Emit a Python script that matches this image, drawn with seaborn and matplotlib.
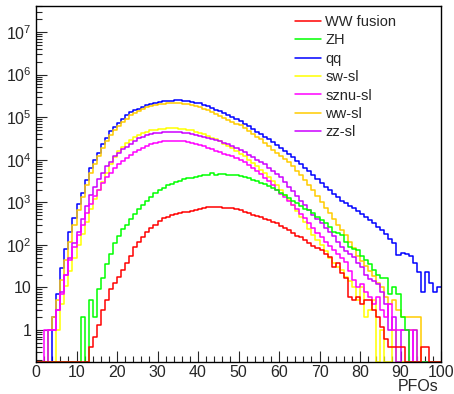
import numpy as np
import pandas as pd
import matplotlib
matplotlib.use("Agg")
import matplotlib.pyplot as plt
from matplotlib.ticker import FixedLocator, MultipleLocator, LogLocator, NullFormatter
import seaborn as sns

# ---------------- data (per-bin contents, bins 0..99 of width 1) ----------------
n_bins = 100
x_range = (0, 100)

qq = [0, 0, 0, 0, 2, 7, 29, 80, 200, 430,
      900, 1700, 3300, 6500, 10000, 14500, 24000, 32000, 48000, 60000,
      75000, 90000, 110000, 130000, 145000, 160000, 175000, 190000, 205000, 215000,
      225000, 235000, 240000, 245000, 250000, 250000, 245000, 240000, 230000, 220000,
      210000, 195000, 180000, 165000, 150000, 140000, 125000, 110000, 100000, 90000,
      80000, 70000, 61000, 53000, 46000, 40000, 35000, 30000, 26000, 22000,
      19000, 16500, 14000, 11500, 9500, 8000, 6500, 5300, 4300, 3500,
      2800, 2300, 1900, 1600, 1300, 1100, 950, 820, 720, 620,
      540, 450, 380, 320, 260, 220, 180, 140, 110, 57,
      64, 60, 55, 37, 23, 8, 23, 13, 8, 10]

ww_sl = [0, 0, 0, 1, 2, 5, 15, 45, 120, 300,
         650, 1300, 2600, 5000, 8000, 12000, 19000, 27000, 38000, 50000,
         63000, 77000, 93000, 110000, 125000, 140000, 155000, 170000, 180000, 190000,
         200000, 205000, 210000, 212000, 212000, 210000, 205000, 200000, 190000, 180000,
         170000, 158000, 145000, 133000, 120000, 108000, 97000, 87000, 79000, 71000,
         64000, 56000, 48000, 41000, 35000, 30000, 25000, 21000, 17000, 14500,
         12500, 10500, 8800, 7000, 5500, 4300, 3300, 2500, 1900, 1400,
         1000, 750, 550, 400, 290, 220, 170, 120, 85, 55,
         42, 32, 25, 19, 13, 10, 6, 4, 5, 3,
         2, 2, 2, 2, 2, 0, 0, 0, 0, 0]

sw_sl = [0, 0, 0, 0, 0, 1, 4, 11, 25, 50,
         100, 180, 350, 700, 1200, 1900, 3000, 5000, 8000, 11500,
         16000, 20000, 25000, 29000, 34000, 39000, 43000, 46000, 49000, 51000,
         53000, 54000, 55000, 55000, 55000, 54000, 53000, 51000, 49000, 46000,
         43000, 40000, 37000, 33000, 30000, 27000, 24000, 21000, 18500, 16000,
         14000, 12000, 10000, 8500, 7000, 5800, 4800, 3900, 3100, 2500,
         2000, 1500, 1150, 870, 640, 460, 340, 240, 170, 130,
         100, 70, 50, 38, 30, 26, 18, 14, 10, 5,
         10, 2, 3, 5, 0, 1, 0, 0, 1, 0,
         0, 0, 1, 1, 0, 0, 0, 0, 0, 0]

zz_sl = [0, 0, 0, 1, 1, 3, 8, 20, 50, 110,
         200, 400, 800, 1500, 2300, 3500, 5000, 7000, 9000, 12000,
         14500, 17500, 20000, 24000, 28000, 32000, 35000, 38000, 40000, 42000,
         43000, 44000, 45000, 45000, 45000, 44500, 43500, 42000, 41000, 39000,
         37000, 35000, 33000, 31000, 29000, 27000, 25000, 23000, 21000, 19000,
         17000, 15000, 13000, 11500, 10000, 9000, 8000, 6500, 5500, 4600,
         3900, 3000, 2300, 1800, 1400, 1100, 850, 650, 500, 400,
         320, 250, 200, 160, 120, 90, 70, 60, 52, 38,
         30, 20, 16, 14, 12, 8, 4, 1, 2, 0,
         1, 1, 0, 1, 0, 0, 0, 0, 0, 0]

sznu_sl = [0, 0, 1, 1, 1, 3, 7, 20, 45, 90,
           170, 300, 550, 900, 1400, 2000, 2900, 3900, 5000, 6300,
           7800, 9500, 11000, 13000, 15000, 17000, 19000, 21000, 23000, 25000,
           26000, 27000, 27500, 28000, 28000, 27500, 27000, 26000, 25000, 23500,
           22000, 20500, 19000, 17500, 16000, 15000, 14000, 13000, 12000, 11000,
           10000, 8800, 7600, 6500, 5500, 4600, 3800, 3100, 2500, 2000,
           1600, 1300, 1050, 850, 680, 540, 430, 330, 250, 190,
           150, 120, 95, 75, 60, 48, 40, 25, 15, 10,
           12, 8, 6, 4, 6, 3, 2, 4, 1, 1,
           1, 1, 1, 0, 0, 0, 0, 0, 0, 0]

zh = [0, 0, 0, 0, 0, 0, 0, 0, 0, 0,
      0, 2, 0, 5, 2, 9, 17, 35, 60, 110,
      160, 230, 300, 400, 520, 680, 870, 1100, 1350, 1650,
      1900, 2200, 2500, 2750, 3000, 3250, 3450, 3650, 3800, 3950,
      4100, 4300, 4500, 4800, 4500, 4700, 4600, 4400, 4500, 4300,
      4100, 3900, 3700, 3400, 3150, 2900, 2650, 2400, 2150, 1900,
      1650, 1450, 1250, 1100, 950, 800, 700, 650, 550, 450,
      380, 330, 260, 200, 190, 170, 120, 90, 80, 75,
      55, 44, 35, 26, 20, 17, 17, 7, 10, 7,
      2, 1, 0, 0, 0, 0, 0, 0, 0, 0]

ww_fusion = [0, 0, 0, 0, 0, 0, 0, 0, 0, 0,
             0, 0, 0, 0.4, 0.7, 1.3, 3, 5, 9, 13,
             18, 26, 38, 55, 90, 120, 150, 200, 250, 300,
             370, 420, 460, 500, 530, 560, 580, 600, 620, 650,
             680, 720, 780, 760, 790, 770, 740, 730, 720, 700,
             650, 600, 550, 500, 470, 440, 410, 380, 350, 320,
             280, 250, 220, 190, 165, 150, 130, 110, 95, 85,
             76, 60, 52, 30, 38, 22, 17, 6, 5, 6,
             4, 5, 5, 3, 2, 1.2, 0.6, 0.4, 0.4, 0.4,
             0.4, 0, 0, 0, 0, 0.4, 0.4, 0, 0, 0]

series_names = ["WW fusion", "ZH", "qq", "sw-sl", "sznu-sl", "ww-sl", "zz-sl"]
series_values = [ww_fusion, zh, qq, sw_sl, sznu_sl, ww_sl, zz_sl]
series_colors = ["#ff0000", "#00ff00", "#0000ff", "#ffff00", "#ff00ff", "#ffcc00", "#cc00ff"]

x_ticks = [0, 10, 20, 30, 40, 50, 60, 70, 80, 90, 100]
y_ticks = [1, 10, 1e2, 1e3, 1e4, 1e5, 1e6, 1e7]
y_tick_labels = ["1", "10", r"$\mathregular{10^{2}}$", r"$\mathregular{10^{3}}$",
                 r"$\mathregular{10^{4}}$", r"$\mathregular{10^{5}}$",
                 r"$\mathregular{10^{6}}$", r"$\mathregular{10^{7}}$"]
y_min, y_max = 0.18, 4.1e7

# ---------------- plot ----------------
sns.set_style("ticks")
plt.rcParams["font.family"] = ["Liberation Sans", "DejaVu Sans"]
plt.rcParams["mathtext.fontset"] = "custom"
plt.rcParams["mathtext.rm"] = "Liberation Sans"

fig = plt.figure(figsize=(4.54, 3.94), dpi=100)
ax = fig.add_axes([36 / 454, 1 - 361.7 / 394, (441 - 36) / 454, (361.7 - 6) / 394])
ax.set_yscale("log")

width = (x_range[1] - x_range[0]) / n_bins
centers = x_range[0] + width * (np.arange(n_bins) + 0.5)
frames = []
for name, vals in zip(series_names, series_values):
    v = np.clip(np.array(vals, dtype=float), y_min, None)
    frames.append(pd.DataFrame({"PFOs": centers, "w": v, "sample": name}))
df = pd.concat(frames, ignore_index=True)

draw_order = ["qq", "ww-sl", "sw-sl", "zz-sl", "sznu-sl", "ZH", "WW fusion"]
for name in draw_order:
    i = series_names.index(name)
    sub = df[df["sample"] == name]
    sns.histplot(data=sub, x="PFOs", weights="w", bins=n_bins, binrange=x_range,
                 element="step", fill=False, color=series_colors[i],
                 linewidth=1.1, ax=ax, label=name)

ax.set_xlim(*x_range)
ax.set_ylim(y_min, y_max)

ax.xaxis.set_major_locator(FixedLocator(x_ticks))
ax.xaxis.set_minor_locator(MultipleLocator(2))
ax.yaxis.set_major_locator(FixedLocator(y_ticks))
ax.set_yticklabels(y_tick_labels)
ax.yaxis.set_minor_locator(LogLocator(base=10, subs=np.arange(2, 10)))
ax.yaxis.set_minor_formatter(NullFormatter())

ax.tick_params(axis="both", which="major", direction="in", length=8, width=0.8,
               labelsize=11.5, top=False, right=False)
ax.tick_params(axis="both", which="minor", direction="in", length=4, width=0.8,
               top=False, right=False)
ax.tick_params(axis="x", pad=2.5)
ax.tick_params(axis="y", pad=3)
for s in ax.spines.values():
    s.set_linewidth(1.0)
    s.set_color("black")
    s.set_visible(True)

ax.set_ylabel("")
ax.set_xlabel("PFOs", fontsize=11.5, ha="right", va="top")
ax.xaxis.set_label_coords(0.993, -0.048)

handles, labels = ax.get_legend_handles_labels()
hmap = dict(zip(labels, handles))
leg = ax.legend([hmap[n] for n in series_names], series_names, loc="upper left",
                bbox_to_anchor=((295 - 36) / 405, 1 - (15 - 6) / 355.7),
                frameon=False, fontsize=10.5, handlelength=1.75, handletextpad=0.33,
                labelspacing=0.3, borderaxespad=0, borderpad=0)

fig.savefig("out.png", dpi=100)
